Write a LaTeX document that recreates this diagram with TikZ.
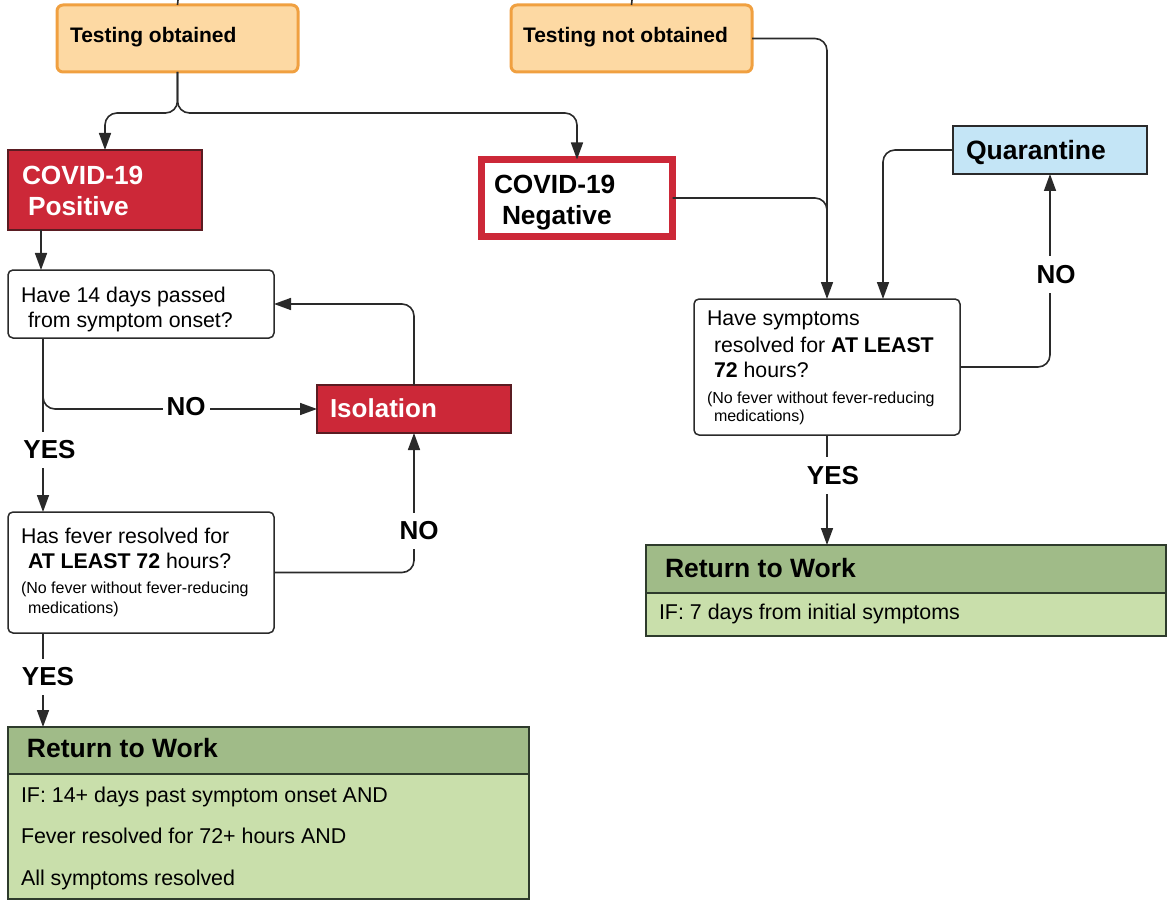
\documentclass[tikz,border=0pt]{standalone}
\usepackage{fontspec}
\setmainfont{Liberation Sans}
\usetikzlibrary{arrows.meta,calc}
\definecolor{orfill}{HTML}{FDD9A3}
\definecolor{ordraw}{HTML}{F0A040}
\definecolor{cred}{HTML}{CC2838}
\definecolor{credd}{HTML}{5A1C22}
\definecolor{gh}{HTML}{A0BB88}
\definecolor{gb}{HTML}{C9DFAB}
\definecolor{gd}{HTML}{2E3B2C}
\definecolor{qblue}{HTML}{C4E5F6}
\definecolor{ln}{HTML}{2A2A2A}
\begin{document}
\begin{tikzpicture}[x=1pt,y=-1pt,
  box/.style={rectangle, anchor=north west, inner sep=0pt, outer sep=0pt},
  orbox/.style={box, fill=orfill, draw=ordraw, line width=3pt, rounded corners=6pt},
  redbox/.style={box, fill=cred, draw=credd, line width=1.5pt},
  qbox/.style={box, fill=qblue, draw=ln, line width=1.5pt},
  wbox/.style={box, fill=white, draw=ln, line width=1.5pt, rounded corners=5pt},
  gbody/.style={box, fill=gb, draw=gd, line width=1.5pt},
  ghead/.style={box, fill=gh, draw=gd, line width=1.5pt},
  txt/.style={anchor=base west, inner sep=0pt, outer sep=0pt},
  bigb/.style={font=\bfseries\fontsize{21}{25}\selectfont},
  hugeb/.style={font=\bfseries\fontsize{26.3}{30}\selectfont},
  norm/.style={font=\fontsize{21.3}{25}\selectfont},
  small/.style={font=\fontsize{16}{19}\selectfont},
  body/.style={font=\fontsize{21.4}{25}\selectfont},
  headt/.style={font=\bfseries\fontsize{26.5}{30}\selectfont},
  lab/.style={fill=white, inner xsep=4pt, inner ysep=9pt, font=\bfseries\fontsize{26}{30}\selectfont},
  conn/.style={draw=ln, line width=1.6pt, rounded corners=12pt},
  arr/.style={conn, -{Triangle[length=17pt,width=12pt]}}
]
\useasboundingbox (0,0) rectangle (1169,901);

% boxes
\node[orbox, minimum width=241pt, minimum height=67pt] (to) at (57,5) {};
\node[orbox, minimum width=241pt, minimum height=67pt] (tno) at (511,5) {};
\node[redbox, minimum width=194pt, minimum height=80pt] (pos) at (8,150) {};
\node[box, fill=white, draw=cred, line width=7pt, minimum width=191pt, minimum height=77pt] (neg) at (481.5,159.5) {};
\node[wbox, minimum width=266pt, minimum height=68pt] (h14) at (8,270) {};
\node[redbox, minimum width=194pt, minimum height=48pt] (iso) at (317,385) {};
\node[wbox, minimum width=266pt, minimum height=121pt] (fev) at (8,512) {};
\node[qbox, minimum width=194pt, minimum height=48pt] (quar) at (953,126) {};
\node[wbox, minimum width=266pt, minimum height=136pt] (hs) at (694,299) {};
\node[gbody, minimum width=521pt, minimum height=172pt] (ret1) at (8,727) {};
\node[ghead, minimum width=521pt, minimum height=47pt] (ret1h) at (8,727) {};
\node[gbody, minimum width=520pt, minimum height=91pt] (ret2) at (646,545) {};
\node[ghead, minimum width=520pt, minimum height=48pt] (ret2h) at (646,545) {};

% coordinates
\coordinate (top1) at (178,0);
\coordinate (top2) at (632,0);
\coordinate (merge) at (827,250);
\coordinate (hsq) at (883,299);

% connectors
\draw[conn] (top1) -- (to.north);
\draw[conn] (top2) -- (tno.north);
\draw[arr] (to.south) -- ++(0,41) -| (pos.north);
\draw[arr] (to.south) -- ++(0,41) -| (neg.north);
\draw[arr] (tno.east) -| (hs.north);
\draw[conn] (neg.east) -| (merge);
\draw[arr] (quar.west) -| (hsq);
\draw[arr] (hs.east) -| (quar.south);
\draw[arr] (hs.south) -- (hs.south |- ret2.north);
\draw[arr] ($(pos.south west)+(33,0)$) -- ($(h14.north west)+(33,0)$);
\draw[arr] ($(h14.south west)+(35,0)$) -- ($(fev.north west)+(35,0)$);
\draw[arr] ($(h14.south west)+(35,0)$) |- (iso.west);
\draw[arr] (iso.north) |- (h14.east);
\draw[arr] (fev.east) -| (iso.south);
\draw[arr] ($(fev.south west)+(35,0)$) -- ($(ret1.north west)+(35,0)$);

% connector labels
\node[lab] (yes1) at (49.5,450) {YES};
\node[lab] (no1) at (186,407) {NO};
\node[lab] (no2) at (419,531) {NO};
\node[lab] (yes2) at (48,677) {YES};
\node[lab] (no3) at (1056,274.5) {NO};
\node[lab] (yes3) at (833,475.5) {YES};

% texts
\node[txt, bigb] (tto) at (70,43) {Testing obtained};
\node[txt, bigb] (ttno) at (523,43) {Testing not obtained};
\node[txt, hugeb, text=white] (tpos1) at (22,185) {COVID-19};
\node[txt, hugeb, text=white] (tpos2) at (28,216) {Positive};
\node[txt, hugeb] (tneg1) at (494,194) {COVID-19};
\node[txt, hugeb] (tneg2) at (502,225) {Negative};
\node[txt, norm] (th1) at (21,302) {Have 14 days passed};
\node[txt, norm] (th2) at (28,327) {from symptom onset?};
\node[txt, font=\bfseries\fontsize{26}{30}\selectfont, text=white] (tiso) at (330,417) {Isolation};
\node[txt, norm] (tf1) at (21,543) {Has fever resolved for};
\node[txt, norm] (tf2) at (28,568) {\textbf{AT LEAST 72} hours?};
\node[txt, small] (tf3) at (21,593) {(No fever without fever-reducing};
\node[txt, small] (tf4) at (28,613) {medications)};
\node[txt, font=\bfseries\fontsize{26.5}{30}\selectfont] (tq) at (966,160) {Quarantine};
\node[txt, norm] (ts1) at (707,325) {Have symptoms};
\node[txt, norm] (ts2) at (714,352) {resolved for \textbf{AT LEAST}};
\node[txt, norm] (ts3) at (714,377) {\textbf{72} hours?};
\node[txt, small] (ts4) at (707,403) {(No fever without fever-reducing};
\node[txt, small] (ts5) at (714,421) {medications)};
\node[txt, headt] (tr1) at (27,757) {Return to Work};
\node[txt, body] (tr1a) at (21,802) {IF: 14+ days past symptom onset AND};
\node[txt, body] (tr1b) at (21,843) {Fever resolved for 72+ hours AND};
\node[txt, body] (tr1c) at (21,885) {All symptoms resolved};
\node[txt, headt] (tr2) at (665,577) {Return to Work};
\node[txt, body] (tr2a) at (659,619) {IF: 7 days from initial symptoms};
\end{tikzpicture}
\end{document}
